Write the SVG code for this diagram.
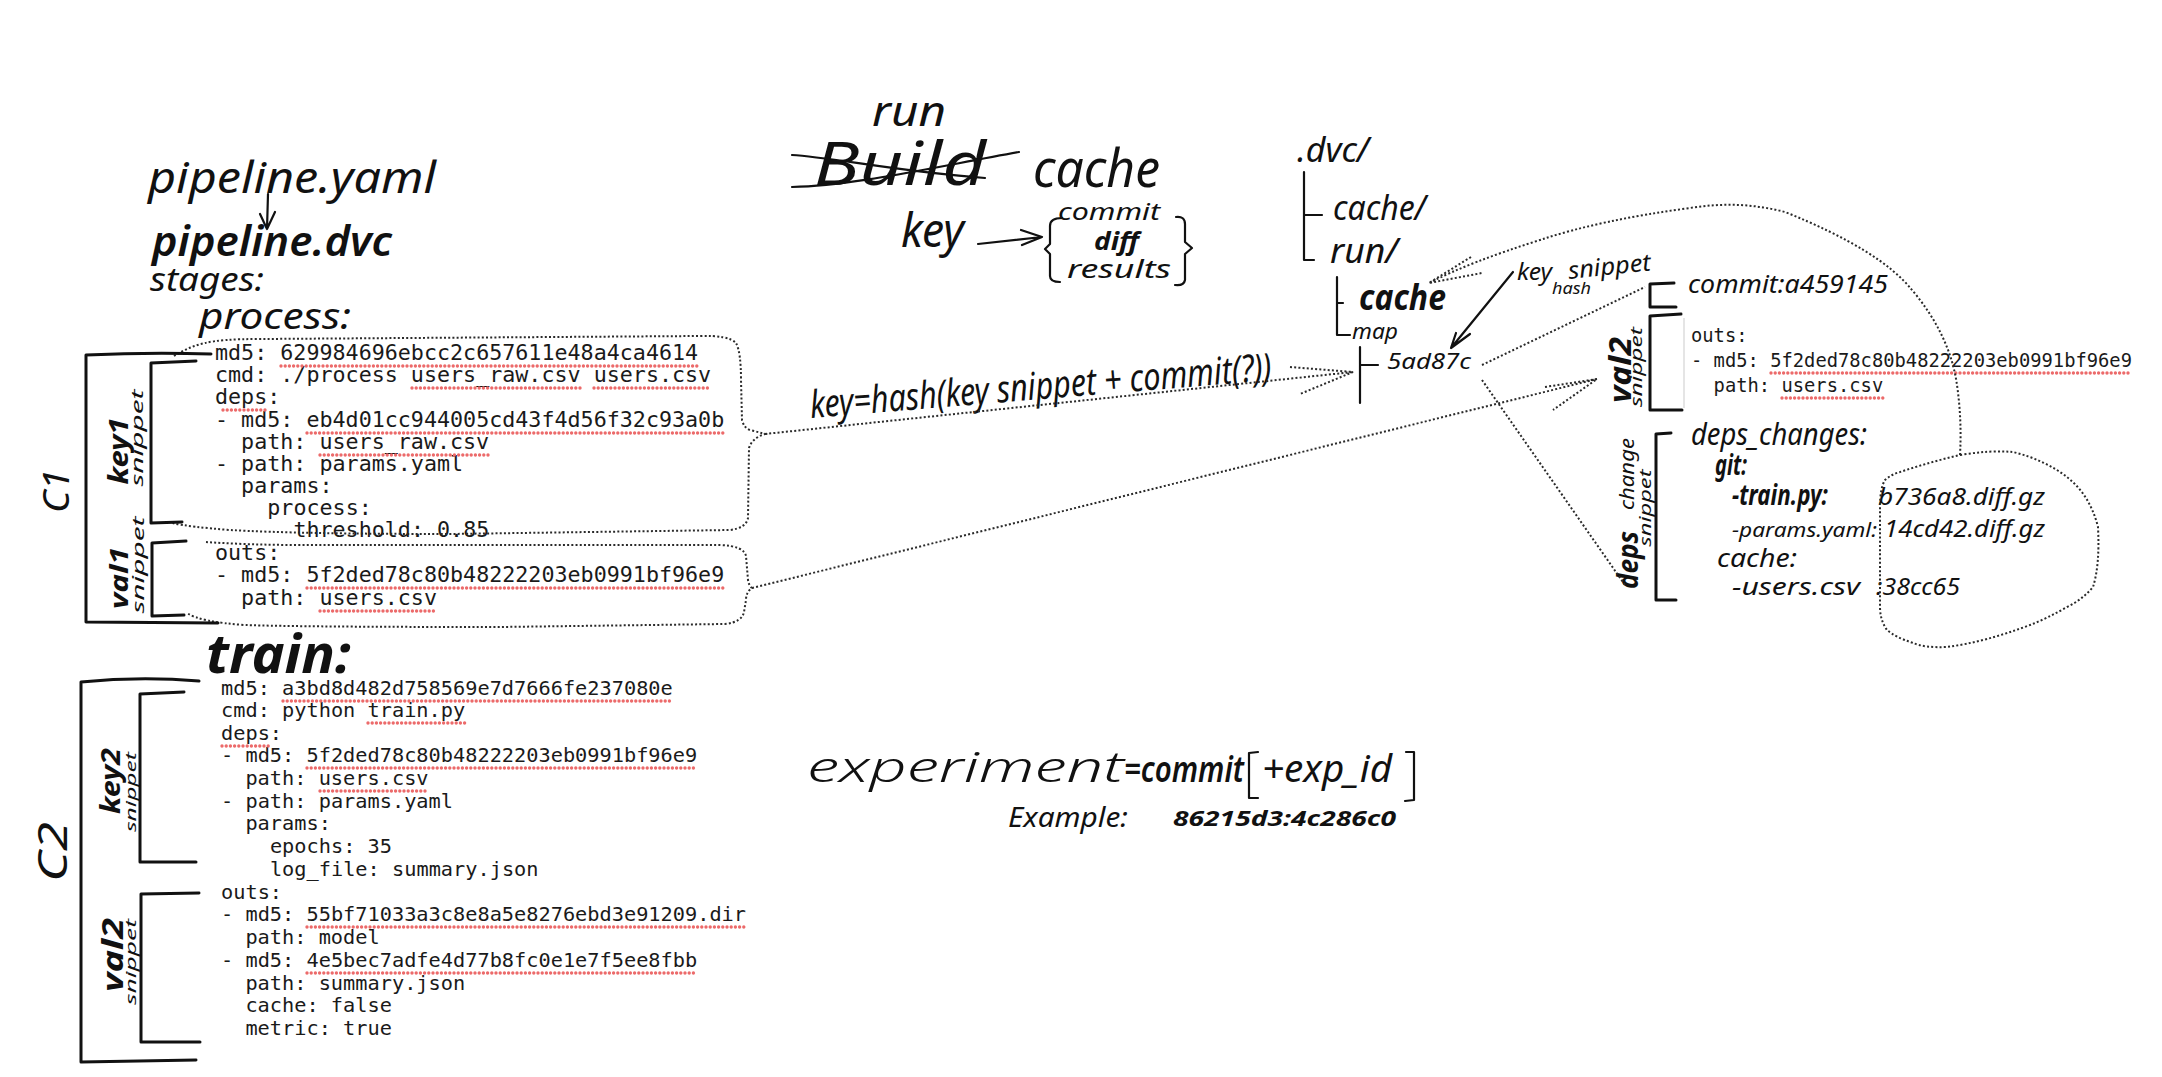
<svg xmlns="http://www.w3.org/2000/svg" width="2162" height="1077" viewBox="0 0 2162 1077">
<style>
.h{font-family:"Noto Sans","DejaVu Sans",sans-serif;font-style:italic;fill:#111}
.b{font-weight:700}
.m{font-family:"DejaVu Sans Mono",monospace;fill:#1a1a1a}
.m1{font-size:21.7px}
.m2{font-size:20.3px}
.m3{font-size:18.8px}
.br{fill:none;stroke:#111;stroke-width:3;stroke-linecap:round;stroke-linejoin:round}
.ln{fill:none;stroke:#111;stroke-width:2.2;stroke-linecap:round;stroke-linejoin:round}
.dot{fill:none;stroke:#2a2a2a;stroke-width:2;stroke-dasharray:2 2.2}
.sp{fill:none;stroke:#ec6a6a;stroke-width:3.4;stroke-dasharray:0 4.2;stroke-linecap:round}
</style>
<rect width="2162" height="1077" fill="#fff"/>

<g id="header">
<text class="h" x="148" y="193" font-size="44" textLength="288" lengthAdjust="spacingAndGlyphs">pipeline.yaml</text>
<path class="ln" d="M268,194 L267,229 M260,214 L267,229 L275,212"/>
<text class="h" x="152" y="256" font-size="42" font-weight="600" textLength="240" lengthAdjust="spacingAndGlyphs">pipeline.dvc</text>
<text class="h" x="150" y="291" font-size="32" textLength="114" lengthAdjust="spacingAndGlyphs">stages:</text>
</g>

<g id="stage-process">
<text class="h" x="199" y="329" font-size="36" textLength="152" lengthAdjust="spacingAndGlyphs">process:</text>
<g class="m m1">
<text x="215" y="360">md5: 629984696ebcc2c657611e48a4ca4614</text>
<text x="215" y="382">cmd: ./process users_raw.csv users.csv</text>
<text x="215" y="404">deps:</text>
<text x="215" y="427">- md5: eb4d01cc944005cd43f4d56f32c93a0b</text>
<text x="241.1" y="449">path: users_raw.csv</text>
<text x="215" y="471">- path: params.yaml</text>
<text x="241.1" y="493">params:</text>
<text x="267.3" y="515">process:</text>
<text x="293.4" y="537">threshold: 0.85</text>
<text x="215" y="560">outs:</text>
<text x="215" y="582">- md5: 5f2ded78c80b48222203eb0991bf96e9</text>
<text x="241.1" y="605">path: users.csv</text>
</g>
<path class="sp" d="M281,366 H698 M412,388 H580 M594,388 H711 M223,410 H267 M307,433 H724 M320,455 H489 M307,588 H724 M320,611 H437"/>
<path class="dot" d="M174,356 Q188,347 205,343 Q220,339 260,339 L700,336 Q728,335 736,343 Q741,352 741,380 L742,420 Q744,428 750,430 Q758,432 765,434 Q752,438 749,448 L748,518 Q746,528 730,530 L450,534 Q300,534 230,530 Q190,527 172,523"/>
<path class="dot" d="M206,542 Q250,545 300,545 L720,545 Q744,546 746,556 L748,580 Q749,586 752,588 Q746,592 746,600 L744,612 Q742,622 725,624 L500,627 Q300,627 245,625 Q200,622 187,613"/>
</g>

<g id="c1-brackets">
<path class="br" d="M211,354 Q150,352 86,355 L86,622 L218,623"/>
<path class="br" d="M196,361 L151,363 L151,523 L182,522"/>
<path class="br" d="M186,541 L152,543 L152,616 L184,615"/>
<text class="h" transform="translate(69,491) rotate(-90)" text-anchor="middle" font-size="36" textLength="44" lengthAdjust="spacingAndGlyphs">C1</text>
<text class="h b" transform="translate(128,451) rotate(-90)" text-anchor="middle" font-size="27" textLength="67" lengthAdjust="spacingAndGlyphs">key1</text>
<text class="h" transform="translate(143,438) rotate(-90)" text-anchor="middle" font-size="16" textLength="97" lengthAdjust="spacingAndGlyphs">snippet</text>
<text class="h b" transform="translate(128,578) rotate(-90)" text-anchor="middle" font-size="25" textLength="62" lengthAdjust="spacingAndGlyphs">val1</text>
<text class="h" transform="translate(144,565) rotate(-90)" text-anchor="middle" font-size="16" textLength="97" lengthAdjust="spacingAndGlyphs">snippet</text>
</g>

<g id="stage-train">
<text class="h b" x="206" y="673" font-size="54" textLength="145" lengthAdjust="spacingAndGlyphs">train:</text>
<g class="m m2">
<text x="221" y="695">md5: a3bd8d482d758569e7d7666fe237080e</text>
<text x="221" y="717">cmd: python train.py</text>
<text x="221" y="740">deps:</text>
<text x="221" y="762">- md5: 5f2ded78c80b48222203eb0991bf96e9</text>
<text x="245.4" y="785">path: users.csv</text>
<text x="221" y="808">- path: params.yaml</text>
<text x="245.4" y="830">params:</text>
<text x="269.9" y="853">epochs: 35</text>
<text x="269.9" y="876">log_file: summary.json</text>
<text x="221" y="899">outs:</text>
<text x="221" y="921">- md5: 55bf71033a3c8e8a5e8276ebd3e91209.dir</text>
<text x="245.4" y="944">path: model</text>
<text x="221" y="967">- md5: 4e5bec7adfe4d77b8fc0e1e7f5ee8fbb</text>
<text x="245.4" y="990">path: summary.json</text>
<text x="245.4" y="1012">cache: false</text>
<text x="245.4" y="1035">metric: true</text>
</g>
<path class="sp" d="M283,701 H673 M368,723 H465 M222,746 H270 M307,768 H697 M320,791 H428 M307,927 H746 M307,973 H697"/>
</g>

<g id="c2-brackets">
<path class="br" d="M199,681 Q140,676 81,682 L81,1062 L196,1060"/>
<path class="br" d="M184,692 L140,694 L140,862 L196,862"/>
<path class="br" d="M199,893 L141,894 L141,1042 L200,1042"/>
<text class="h" transform="translate(67,852) rotate(-90)" text-anchor="middle" font-size="40" textLength="60" lengthAdjust="spacingAndGlyphs">C2</text>
<text class="h b" transform="translate(120,781) rotate(-90)" text-anchor="middle" font-size="27" textLength="66" lengthAdjust="spacingAndGlyphs">key2</text>
<text class="h" transform="translate(136,792) rotate(-90)" text-anchor="middle" font-size="15" textLength="80" lengthAdjust="spacingAndGlyphs">snippet</text>
<text class="h b" transform="translate(123,955) rotate(-90)" text-anchor="middle" font-size="29" textLength="74" lengthAdjust="spacingAndGlyphs">val2</text>
<text class="h" transform="translate(136,962) rotate(-90)" text-anchor="middle" font-size="15" textLength="86" lengthAdjust="spacingAndGlyphs">snippet</text>
</g>

<g id="run-cache-title">
<text class="h" x="872" y="126" font-size="42" textLength="74" lengthAdjust="spacingAndGlyphs">run</text>
<text class="h" x="814" y="185" font-size="60" textLength="172" lengthAdjust="spacingAndGlyphs">Build</text>
<path class="ln" d="M792,155 C830,157 900,172 985,178 M792,187 C850,186 920,170 1019,152"/>
<text class="h" x="1033" y="187" font-size="52" textLength="127" lengthAdjust="spacingAndGlyphs">cache</text>
</g>

<g id="key-def">
<text class="h" x="901" y="247" font-size="48" textLength="63" lengthAdjust="spacingAndGlyphs">key</text>
<path class="ln" d="M978,244 L1042,237 M1021,230 L1042,237 L1022,245"/>
<path class="ln" d="M1062,218 Q1050,218 1050,226 L1050,244 L1045,249 L1050,254 L1050,276 Q1050,282 1060,282"/>
<text class="h" x="1058" y="220" font-size="23" textLength="102" lengthAdjust="spacingAndGlyphs">commit</text>
<text class="h b" x="1094" y="250" font-size="25" textLength="45" lengthAdjust="spacingAndGlyphs">diff</text>
<text class="h" x="1067" y="278" font-size="25" textLength="104" lengthAdjust="spacingAndGlyphs">results</text>
<path class="ln" d="M1176,217 Q1185,216 1185,224 L1185,242 L1192,248 L1185,254 L1185,280 Q1184,286 1175,285"/>
</g>

<g id="key-hash">
<text class="h" transform="translate(811,418) rotate(-4.7)" font-size="38" textLength="463" lengthAdjust="spacingAndGlyphs">key=hash(key snippet + commit(?))</text>
</g>

<g id="dvc-tree">
<text class="h" x="1297" y="162" font-size="34" textLength="72" lengthAdjust="spacingAndGlyphs">.dvc/</text>
<path class="ln" d="M1304,172 L1304,260 L1314,260 M1304,215 L1322,215"/>
<text class="h" x="1333" y="220" font-size="34" textLength="93" lengthAdjust="spacingAndGlyphs">cache/</text>
<text class="h" x="1330" y="263" font-size="34" textLength="68" lengthAdjust="spacingAndGlyphs">run/</text>
<path class="ln" d="M1337,277 L1337,335 L1350,335 M1337,303 L1343,303"/>
<text class="h b" x="1359" y="310" font-size="36" textLength="87" lengthAdjust="spacingAndGlyphs">cache</text>
<text class="h" x="1352" y="339" font-size="22" textLength="46" lengthAdjust="spacingAndGlyphs">map</text>
<path class="ln" d="M1360,347 L1360,403 M1360,365 L1378,365"/>
<text class="h" x="1387" y="369" font-size="22" textLength="84" lengthAdjust="spacingAndGlyphs">5ad87c</text>
</g>

<g id="key-snippet-hash">
<text class="h" x="1517" y="280" font-size="24" textLength="35" lengthAdjust="spacingAndGlyphs">key</text>
<text class="h" transform="translate(1569,279) rotate(-6)" font-size="24" textLength="83" lengthAdjust="spacingAndGlyphs">snippet</text>
<text class="h" x="1552" y="294" font-size="16" textLength="39" lengthAdjust="spacingAndGlyphs">hash</text>
<path class="ln" d="M1513,272 L1451,348 M1456,333 L1451,348 L1470,334"/>
</g>

<g id="run-entry">
<path class="br" d="M1674,283 L1650,284 L1650,307 L1676,307"/>
<text class="h" x="1688" y="293" font-size="26" textLength="200" lengthAdjust="spacingAndGlyphs">commit:a459145</text>
<path class="br" d="M1681,314 L1650,316 L1650,410 L1682,410"/>
<path d="M1684,318 L1684,408" stroke="#ddd" stroke-width="1.5"/>
<text class="h b" transform="translate(1631,370) rotate(-90)" text-anchor="middle" font-size="30" textLength="66" lengthAdjust="spacingAndGlyphs">val2</text>
<text class="h" transform="translate(1642,367) rotate(-90)" text-anchor="middle" font-size="17" textLength="80" lengthAdjust="spacingAndGlyphs">snippet</text>
<g class="m m3">
<text x="1691" y="342">outs:</text>
<text x="1691" y="367">- md5: 5f2ded78c80b48222203eb0991bf96e9</text>
<text x="1713.6" y="392">path: users.csv</text>
</g>
<path class="sp" d="M1771,373 H2132 M1782,398 H1883"/>
<path class="br" d="M1671,433 L1656,434 L1656,600 L1676,600"/>
<text class="h b" transform="translate(1638,560) rotate(-90)" text-anchor="middle" font-size="28" textLength="58" lengthAdjust="spacingAndGlyphs">deps</text>
<text class="h" transform="translate(1634,474) rotate(-90)" text-anchor="middle" font-size="20" textLength="72" lengthAdjust="spacingAndGlyphs">change</text>
<text class="h" transform="translate(1651,508) rotate(-90)" text-anchor="middle" font-size="17" textLength="77" lengthAdjust="spacingAndGlyphs">snippet</text>
<text class="h" x="1691" y="445" font-size="30" textLength="176" lengthAdjust="spacingAndGlyphs">deps_changes:</text>
<text class="h b" x="1715" y="475" font-size="28" textLength="32" lengthAdjust="spacingAndGlyphs">git:</text>
<text class="h b" x="1732" y="505" font-size="28" textLength="96" lengthAdjust="spacingAndGlyphs">-train.py:</text>
<text class="h" x="1878" y="505" font-size="24" textLength="167" lengthAdjust="spacingAndGlyphs">b736a8.diff.gz</text>
<text class="h" x="1732" y="537" font-size="20" textLength="145" lengthAdjust="spacingAndGlyphs">-params.yaml:</text>
<text class="h" x="1884" y="537" font-size="24" textLength="161" lengthAdjust="spacingAndGlyphs">14cd42.diff.gz</text>
<text class="h" x="1717" y="567" font-size="26" textLength="80" lengthAdjust="spacingAndGlyphs">cache:</text>
<text class="h" x="1732" y="595" font-size="24" textLength="128" lengthAdjust="spacingAndGlyphs">-users.csv</text>
<text class="h" x="1876" y="595" font-size="24" textLength="84" lengthAdjust="spacingAndGlyphs">:38cc65</text>
<path class="dot" d="M1960,455 Q1990,450 2013,452 Q2045,460 2067,477 Q2090,495 2098,527 Q2100,565 2093,587 Q2082,600 2067,607 Q2048,618 2030,625 Q1985,642 1947,647 Q1925,648 1913,643 Q1895,637 1887,630 Q1880,620 1880,607 L1880,507 Q1880,488 1885,480 Q1892,474 1900,472 Q1930,462 1960,455"/>
</g>

<g id="experiment">
<text class="h" x="807" y="782" font-size="42" font-weight="300" textLength="317" lengthAdjust="spacingAndGlyphs">experiment</text>
<text class="h" x="1124" y="782" font-size="36" font-weight="600" textLength="120" lengthAdjust="spacingAndGlyphs">=commit</text>
<path class="ln" d="M1258,752 L1249,753 L1249,798 L1258,798"/>
<text class="h" x="1262" y="782" font-size="38" textLength="130" lengthAdjust="spacingAndGlyphs">+exp_id</text>
<path class="ln" d="M1406,752 L1414,752 L1414,800 L1405,801"/>
<text class="h" x="1008" y="827" font-size="27" textLength="120" lengthAdjust="spacingAndGlyphs">Example:</text>
<text class="h b" x="1173" y="826" font-size="21" textLength="223" lengthAdjust="spacingAndGlyphs">86215d3:4c286c0</text>
</g>

<g id="connectors">
<path class="dot" d="M765,434 L1353,372 M1290,367 L1353,372 L1300,394"/>
<path class="dot" d="M752,588 L1597,379 M1545,387 L1597,379 L1553,410"/>
<path class="dot" d="M1482,365 L1645,287"/>
<path class="dot" d="M1482,380 L1625,585"/>
<path class="dot" d="M1960,455 Q1962,420 1957,385 Q1950,335 1912,290 Q1880,250 1785,212 Q1740,200 1690,208 Q1600,220 1540,240 Q1470,262 1429,283 M1471,257 L1429,283 L1482,273"/>
</g>
</svg>
